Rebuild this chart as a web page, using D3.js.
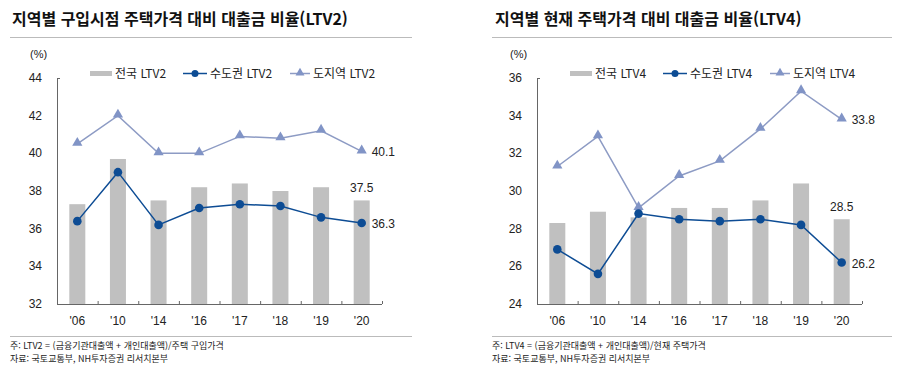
<!DOCTYPE html>
<html lang="ko">
<head>
<meta charset="utf-8">
<title>LTV chart</title>
<style>
body { margin:0; background:#fff; }
svg { display:block; }
text { font-family: "Liberation Sans", Arial, "Noto Sans CJK KR", sans-serif; fill:#222; }
.title { font: bold 16px "Noto Sans CJK KR", sans-serif; fill:#111; }
.lg, .note { font-family: "Noto Sans CJK KR", "Liberation Sans", sans-serif; }
</style>
</head>
<body>
<svg width="900" height="370"></svg>
<script src="https://d3js.org/d3.v7.min.js"></script>
<script>
var years = ["'06", "'10", "'14", "'16", "'17", "'18", "'19", "'20"];

// LTV2 (left)
var ltv2Nation = [37.3, 39.7, 37.5, 38.2, 38.4, 38.0, 38.2, 37.5];
var ltv2Metro  = [36.4, 39.0, 36.2, 37.1, 37.3, 37.2, 36.6, 36.3];
var ltv2Prov   = [40.5, 42.0, 40.0, 40.0, 40.9, 40.8, 41.2, 40.1];
var ltv2Ticks  = [32, 34, 36, 38, 40, 42, 44];

// LTV4 (right)
var ltv4Nation = [28.3, 28.9, 28.6, 29.1, 29.1, 29.5, 30.4, 28.5];
var ltv4Metro  = [26.9, 25.6, 28.8, 28.5, 28.4, 28.5, 28.2, 26.2];
var ltv4Prov   = [31.3, 32.9, 29.1, 30.8, 31.6, 33.3, 35.3, 33.8];
var ltv4Ticks  = [24, 26, 28, 30, 32, 34, 36];

var barColor = "#c0c0c0",
    metroColor = "#0d4c94",
    provColor = "#8194c6",
    provLine = "#8d9bc4",
    axisColor = "#666";

var svg = d3.select("svg");

function drawPanel(o) {
  var g = svg.append("g").attr("transform", "translate(" + o.dx + ",0)");

  g.append("text").attr("class", "title").attr("x", o.titleX).attr("y", 25).text(o.title);
  g.append("line").attr("x1", o.ruleX0).attr("x2", o.ruleX1).attr("y1", 37.5).attr("y2", 37.5)
    .attr("stroke", "#bbb").attr("stroke-width", 1);
  g.append("line").attr("x1", o.ruleX0).attr("x2", o.ruleX1).attr("y1", 336.5).attr("y2", 336.5)
    .attr("stroke", "#bbb").attr("stroke-width", 1);

  var x = d3.scaleBand().domain(years).range([o.axisX, o.axisX + 325]);
  var y = d3.scaleLinear().domain([o.ticks[0], o.ticks[o.ticks.length - 1]]).range([304, 78]);

  // y axis
  g.append("line").attr("x1", o.axisX + 0.5).attr("x2", o.axisX + 0.5).attr("y1", y.range()[1]).attr("y2", 304)
    .attr("stroke", axisColor);
  g.append("line").attr("x1", o.axisX).attr("x2", o.axisX + 3).attr("y1", y.range()[1] + 0.5).attr("y2", y.range()[1] + 0.5)
    .attr("stroke", axisColor);
  g.selectAll(".yt").data(o.ticks).enter().append("text")
    .attr("x", o.axisX - 15).attr("y", function(d) { return y(d) + 4; })
    .attr("text-anchor", "end").style("font-size", "12px").text(function(d) { return d; });
  g.append("text").attr("x", o.axisX - 27).attr("y", 58).style("font-size", "11px").text("(%)");

  // bars
  g.selectAll(".bar").data(o.nation).enter().append("rect")
    .attr("x", function(d, i) { return x(years[i]) + x.bandwidth() / 2 - 8; })
    .attr("width", 16)
    .attr("y", function(d) { return y(d); })
    .attr("height", function(d) { return 304 - y(d); })
    .attr("fill", barColor);

  // x axis
  g.append("line").attr("x1", o.axisX).attr("x2", o.axisX + 325).attr("y1", 304.5).attr("y2", 304.5)
    .attr("stroke", axisColor);
  g.selectAll(".xt").data(d3.range(1, years.length + 1)).enter().append("line")
    .attr("x1", function(i) { return o.axisX + x.step() * i + 0.5; })
    .attr("x2", function(i) { return o.axisX + x.step() * i + 0.5; })
    .attr("y1", 304).attr("y2", 301).attr("stroke", axisColor);
  g.selectAll(".xl").data(years).enter().append("text")
    .attr("x", function(d) { return x(d) + x.bandwidth() / 2; })
    .attr("y", 325).attr("text-anchor", "middle").style("font-size", "12px").text(function(d) { return d; });

  var cx = function(d, i) { return x(years[i]) + x.bandwidth() / 2; };
  var line = d3.line().x(cx).y(function(d) { return y(d); });

  // province line
  g.append("path").datum(o.prov).attr("d", line).attr("fill", "none")
    .attr("stroke", provLine).attr("stroke-width", 1.5);
  g.selectAll(".tri").data(o.prov).enter().append("path")
    .attr("d", d3.symbol().type(d3.symbolTriangle).size(45))
    .attr("transform", function(d, i) { return "translate(" + cx(d, i) + "," + (y(d) - 1) + ")"; })
    .attr("fill", provColor);

  // metro line
  g.append("path").datum(o.metro).attr("d", line).attr("fill", "none")
    .attr("stroke", metroColor).attr("stroke-width", 1.5);
  g.selectAll(".dot").data(o.metro).enter().append("circle")
    .attr("cx", cx).attr("cy", function(d) { return y(d); }).attr("r", 4.3)
    .attr("fill", metroColor);

  // end labels
  var last = years.length - 1, lx = cx(null, last);
  g.append("text").attr("x", lx + 10).attr("y", y(o.prov[last]) + 5).style("font-size", "12px").text(o.prov[last].toFixed(1));
  g.append("text").attr("x", lx + 10).attr("y", y(o.metro[last]) + 5).style("font-size", "12px").text(o.metro[last].toFixed(1));
  g.append("text").attr("x", lx).attr("y", y(o.nation[last]) - 8).attr("text-anchor", "middle").style("font-size", "12px").text(o.nation[last].toFixed(1));

  // legend
  var ly = 73;
  g.append("rect").attr("x", o.axisX + 33).attr("y", ly - 2).attr("width", 22).attr("height", 5).attr("fill", barColor);
  g.append("text").attr("class", "lg").attr("x", o.axisX + 58).attr("y", ly + 5).style("font-size", "12px").text("전국 " + o.tag);
  g.append("line").attr("x1", o.axisX + 126).attr("x2", o.axisX + 150).attr("y1", ly + 0.5).attr("y2", ly + 0.5)
    .attr("stroke", metroColor).attr("stroke-width", 1.5);
  g.append("circle").attr("cx", o.axisX + 138).attr("cy", ly + 0.5).attr("r", 3.5).attr("fill", metroColor);
  g.append("text").attr("class", "lg").attr("x", o.axisX + 153).attr("y", ly + 5).style("font-size", "12px").text("수도권 " + o.tag);
  g.append("line").attr("x1", o.axisX + 233).attr("x2", o.axisX + 253).attr("y1", ly + 0.5).attr("y2", ly + 0.5)
    .attr("stroke", provLine).attr("stroke-width", 1.5);
  g.append("path").attr("d", d3.symbol().type(d3.symbolTriangle).size(35))
    .attr("transform", "translate(" + (o.axisX + 243) + "," + ly + ")").attr("fill", provColor);
  g.append("text").attr("class", "lg").attr("x", o.axisX + 256).attr("y", ly + 5).style("font-size", "12px").text("도지역 " + o.tag);

  // notes
  g.append("text").attr("class", "note").attr("x", o.ruleX0).attr("y", 349).style("font-size", "9px").text(o.note);
  g.append("text").attr("class", "note").attr("x", o.ruleX0).attr("y", 362).style("font-size", "9px").text("자료: 국토교통부, NH투자증권 리서치본부");
}

drawPanel({
  dx: 0, axisX: 57, titleX: 12, ruleX0: 10, ruleX1: 412, ticks: ltv2Ticks, tag: "LTV2",
  nation: ltv2Nation, metro: ltv2Metro, prov: ltv2Prov,
  title: "지역별 구입시점 주택가격 대비 대출금 비율(LTV2)",
  note: "주: LTV2 = (금융기관대출액 + 개인대출액)/주택 구입가격"
});
drawPanel({
  dx: 450, axisX: 87, titleX: 45, ruleX0: 42, ruleX1: 442, ticks: ltv4Ticks, tag: "LTV4",
  nation: ltv4Nation, metro: ltv4Metro, prov: ltv4Prov,
  title: "지역별 현재 주택가격 대비 대출금 비율(LTV4)",
  note: "주: LTV4 = (금융기관대출액 + 개인대출액)/현재 주택가격"
});
</script>
</body>
</html>
